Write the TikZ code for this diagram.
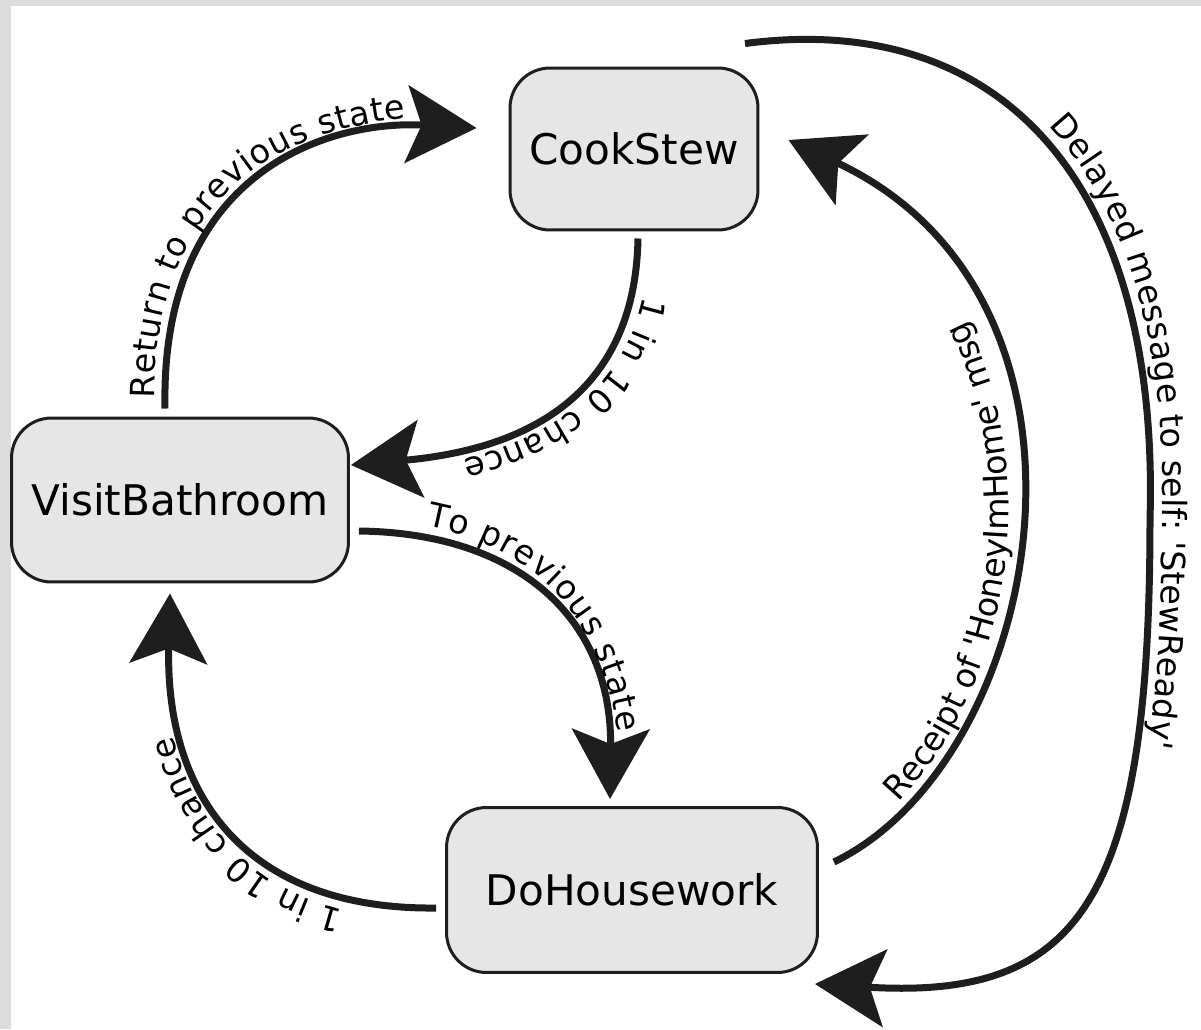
\documentclass[tikz,border=0pt]{standalone}
\usepackage{fontspec}
\setmainfont{DejaVu Sans}
\usepackage{tikz}
\usetikzlibrary{positioning, arrows.meta, decorations.text}
\definecolor{boxgray}{HTML}{E6E6E6}
\definecolor{framegray}{HTML}{DCDCDC}
\definecolor{inkblack}{HTML}{1E1E1E}
\newcommand{\lblfont}{\fontsize{19}{23}\selectfont}
\newcommand{\sq}{\textquotesingle}
\tikzstyle{block} = [rectangle, draw=inkblack, line width=0.06cm, fill=boxgray,
    rounded corners=0.8cm, inner sep=0pt, font=\fontsize{24}{28}\selectfont]
\tikzstyle{line} = [draw=inkblack, line width=0.14cm,
    -{Stealth[length=1.4cm, width=1.55cm, inset=0.3cm]}]
\tikzset{pathtext/.style={postaction={decorate},
    decoration={text along path, raise=0.24cm, #1}}}

\begin{document}
\begin{tikzpicture}[x=0.02cm, y=-0.02cm]
        \useasboundingbox (0,0) rectangle (1201,1029);
        \fill [framegray] (0,0) rectangle (1201,1029);
        \fill [white] (11,6) rectangle (1201,1029);
        % Place nodes
        \node [block, minimum width=4.96cm, minimum height=3.24cm] (cook) at (634,149) {CookStew};
        \node [block, minimum width=6.74cm, minimum height=3.28cm] (bath) at (180,500) {VisitBathroom};
        \node [block, minimum width=7.42cm, minimum height=3.3cm] (house) at (632,890) {DoHousework};
        % Draw edges
        \path [line, pathtext={text={|\lblfont|Return to previous state}, raise=0.21cm, text align={left, left indent=0.2cm}}]
            ([xshift=-0.3cm, yshift=0.16cm]bath.north) .. controls (160,170) and (330,120) .. ([xshift=-0.64cm, yshift=0.42cm]cook.west);
        \path [line, pathtext={text={|\lblfont|1 in 10 chance}, text align={left, left indent=1.1cm}}]
            ([xshift=0.08cm, yshift=-0.14cm]cook.south) .. controls (635,400) and (520,450) .. ([xshift=0.02cm, yshift=0.7cm]bath.east);
        \path [line, pathtext={text={|\lblfont|To previous state}, raise=0.23cm, text align={left, left indent=1.3cm}}]
            ([xshift=0.18cm, yshift=-0.62cm]bath.east) .. controls (520,533) and (612,620) .. ([xshift=-0.44cm, yshift=0.14cm]house.north);
        \path [line, pathtext={text={|\lblfont|1 in 10 chance}, text align={left, left indent=1.8cm}}]
            ([xshift=-0.18cm, yshift=-0.36cm]house.west) .. controls (250,910) and (165,800) .. ([xshift=-0.2cm, yshift=-0.2cm]bath.south);
        \path [line, pathtext={text={|\lblfont|Receipt of {\sq}HoneyImHome{\sq} msg}, raise=0.2cm, text align={left, left indent=1.8cm}}]
            ([xshift=0.3cm, yshift=0.56cm]house.east) .. controls (1045,760) and (1130,300) .. ([xshift=0.58cm, yshift=0.18cm]cook.east);
        \path [line, pathtext={text={|\lblfont|Delayed message to self: {\sq}StewReady{\sq}}, text align={left, left indent=6.4cm}}]
            ([xshift=2.22cm, yshift=0.46cm]cook.north) .. controls (1000,10) and (1160,180) .. (1150,520)
            .. controls (1150,900) and (1080,1000) .. ([xshift=3.66cm, yshift=-0.2cm]house.south);
\end{tikzpicture}
\end{document}
